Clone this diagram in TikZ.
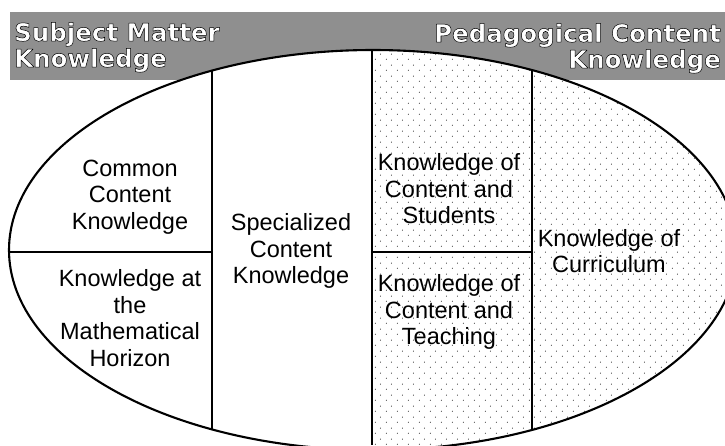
\documentclass[tikz,border=0pt]{standalone}
\usepackage{fontspec}
\setmainfont{Liberation Sans}
\newfontfamily\bannerfont{DejaVu Sans Bold}
\usetikzlibrary{patterns.meta}
\definecolor{bandgray}{gray}{0.56}
\tikzdeclarepattern{
  name=sparsedots,
  type=uncolored,
  bounding box={(0pt,0pt) and (11pt,11pt)},
  tile size={(11pt,11pt)},
  code={
    \fill (1.5pt,2pt) circle (0.55pt);
    \fill (7pt,7.5pt) circle (0.55pt);
  }
}
\newcommand{\outlinetext}[1]{\special{pdf:literal direct 0 G 0.5 w 2 Tr}#1\special{pdf:literal direct 0 Tr}}
\begin{document}
\begin{tikzpicture}[x=1pt,y=-1pt,line join=round,
  rim/.style={line width=2.1pt},
  divider/.style={line width=2.5pt},
  splitline/.style={line width=1.6pt},
  lbl/.style={font=\fontsize{23.5}{26.5}\selectfont, align=center, inner sep=0pt, text=black},
  banner/.style={font=\bannerfont\fontsize{24.5}{26}\selectfont, text=white, inner sep=0pt}]
\useasboundingbox (0,0) rectangle (725,445);
\clip (0,0) rectangle (725,445);
% banner band
\fill[bandgray] (10,12) rectangle (725,80);
% ellipse interior
\fill[white] (373,250) ellipse [x radius=364, y radius=200];
\begin{scope}
  \clip (373,250) ellipse [x radius=364, y radius=200];
  \fill[pattern=sparsedots] (372,0) rectangle (745,445);
  \draw[divider] (212,0) -- (212,445);
  \draw[divider] (372,0) -- (372,445);
  \draw[divider] (532,0) -- (532,445);
  \draw[splitline] (0,252) -- (212,252);
  \draw[splitline] (372,252) -- (532,252);
\end{scope}
\draw[rim] (373,250) ellipse [x radius=364, y radius=200];
% labels
\node[lbl] (cck) at (130,197) {Common\\Content\\Knowledge};
\node[lbl] (hck) at (130,318) {Knowledge at\\the\\Mathematical\\Horizon};
\node[lbl] (sck) at (291,251) {Specialized\\Content\\Knowledge};
\node[lbl] (kcs) at (449,189) {Knowledge of\\Content and\\Students};
\node[lbl] (kct) at (449,312) {Knowledge of\\Content and\\Teaching};
\node[lbl] (kcc) at (609,251) {Knowledge of\\Curriculum};
% banner titles
\node[banner, anchor=base west] (smk1) at (14,41) {\outlinetext{Subject Matter}};
\node[banner, anchor=base west] (smk2) at (14,67) {\outlinetext{Knowledge}};
\node[banner, anchor=base east] (pck1) at (721,42) {\outlinetext{Pedagogical Content}};
\node[banner, anchor=base east] (pck2) at (721,68) {\outlinetext{Knowledge}};
\end{tikzpicture}
\end{document}
